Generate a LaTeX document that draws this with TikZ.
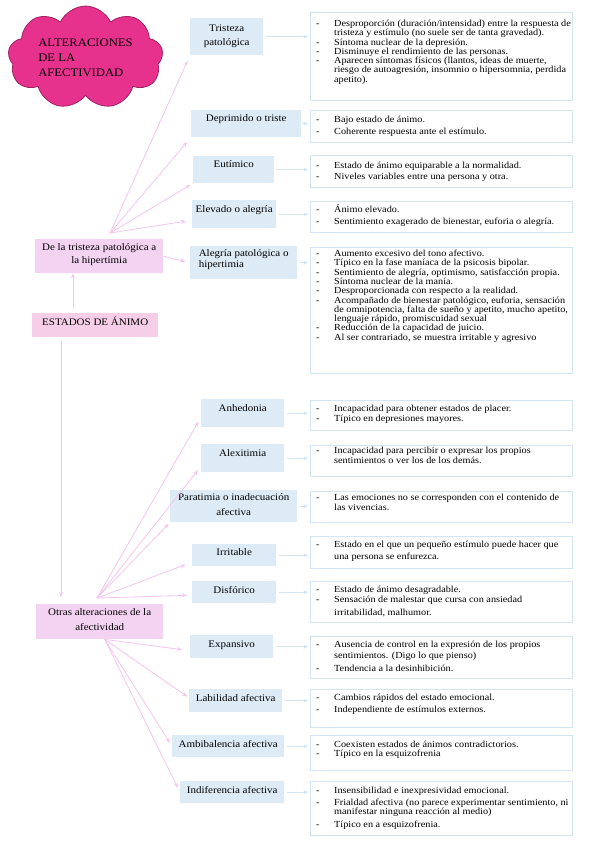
\documentclass[tikz,border=0pt]{standalone}
\usepackage{fontspec}
\setmainfont{Liberation Serif}[FakeStretch=1.1]
\usetikzlibrary{shapes.symbols,arrows.meta,calc}
\definecolor{bluef}{RGB}{221,235,247}
\definecolor{blueline}{RGB}{210,228,245}
\definecolor{pinkf}{RGB}{243,211,241}
\definecolor{pinkf2}{RGB}{246,206,232}
\definecolor{pinkline}{RGB}{243,198,238}
\definecolor{magf}{RGB}{230,50,140}
\definecolor{magd}{RGB}{160,32,96}
\newcommand\Li[1]{\hbox{\makebox[18pt][l]{-}#1}}
\newcommand\Lc[1]{\hbox{\hspace*{18pt}#1}}
\newcommand\dlist[2][9.3pt]{\vtop{\baselineskip=#1\lineskiplimit=-10pt\lineskip=0pt #2}}
\newcommand\ctwo[3]{\vtop{\baselineskip=#1\lineskiplimit=-10pt\lineskip=0pt\halign{\hfil##\hfil\cr#2\cr#3\cr}}}
\newcommand\ltwo[3]{\vtop{\baselineskip=#1\lineskiplimit=-10pt\lineskip=0pt\halign{##\hfil\cr#2\cr#3\cr}}}
\tikzset{
  lab/.style={fill=bluef, inner xsep=0pt, inner ysep=0pt, anchor=north west, font=\fontsize{10}{12}\selectfont},
  plab/.style={fill=pinkf, inner xsep=0pt, inner ysep=0pt, anchor=north west, font=\fontsize{10}{12}\selectfont},
  dbox/.style={draw=blueline, line width=0.8pt, fill=white, anchor=north west, inner sep=0pt, minimum width=262pt},
  dtext/.style={anchor=base west, inner sep=0pt, font=\fontsize{9.3}{9.3}\selectfont},
  pa/.style={draw=pinkline, line width=0.8pt, -{Stealth[length=5pt,width=4pt]}},
  ba/.style={draw=blueline, line width=1.2pt, -{Stealth[length=4.5pt,width=4pt]}, shorten <=3pt, shorten >=2pt},
}
\begin{document}
\begin{tikzpicture}[x=1pt,y=-1pt]
\fill[white] (0,0) rectangle (599,848);
\useasboundingbox (0,0) rectangle (599,848);

% title cloud
\node[cloud, cloud puffs=9, cloud puff arc=130, aspect=1.7, fill=magf, draw=magd, line width=0.8pt,
  minimum width=155pt, minimum height=91pt, inner sep=0pt, font=\fontsize{11.5}{15}\selectfont, align=left]
  (cl) at (85.5,57.5) {ALTERACIONES\\DE LA\\AFECTIVIDAD};

% pink nodes
\node[plab, minimum width=128pt, text height=11.5pt, text depth=22.5pt] (n1) at (35,239)
  {\ctwo{13pt}{De la tristeza patológica a}{la hipertímia}};
\node[plab, fill=pinkf2, minimum width=126pt, text height=12.5pt, text depth=11pt] (es) at (32,313)
  {ESTADOS DE ÁNIMO};
\node[plab, minimum width=127pt, text height=11.5pt, text depth=23.5pt] (ot) at (36,604)
  {\ctwo{15pt}{Otras alteraciones de la}{afectividad}};

% blue labels
\node[lab, minimum width=73pt, text height=13.5pt, text depth=23.5pt] (b1) at (190,18) {\ctwo{14pt}{Tristeza}{patológica}};
\node[lab, minimum width=110pt, text height=11.5pt, text depth=15.5pt] (b2) at (191,110) {Deprimido o triste};
\node[lab, minimum width=81pt, text height=11.5pt, text depth=15.5pt] (b3) at (193,156) {Eutímico};
\node[lab, minimum width=84pt, text height=12.5pt, text depth=15.5pt] (b4) at (192,200) {Elevado o alegría};
\node[lab, minimum width=107pt, text height=10.5pt, text depth=22.5pt] (b5) at (190,246) {\ltwo{11pt}{Alegría patológica o}{hipertimia}};
\node[lab, minimum width=83pt, text height=12.5pt, text depth=15.5pt] (b6) at (201,399) {Anhedonia};
\node[lab, minimum width=83pt, text height=12.5pt, text depth=15.5pt] (b7) at (201,444) {Alexitimia};
\node[lab, minimum width=127pt, text height=10.5pt, text depth=21.5pt] (b8) at (170,490) {\ctwo{15pt}{Paratimia o inadecuación}{afectiva}};
\node[lab, minimum width=84pt, text height=11.5pt, text depth=10.5pt] (b9) at (192,544) {Irritable};
\node[lab, minimum width=84pt, text height=12.5pt, text depth=9.5pt] (b10) at (192,581) {Disfórico};
\node[lab, minimum width=83pt, text height=12.5pt, text depth=10.5pt] (b11) at (190,635) {Expansivo};
\node[lab, minimum width=93pt, text height=12.5pt, text depth=10.5pt] (b12) at (189,689) {Labilidad afectiva};
\node[lab, minimum width=112pt, text height=12.5pt, text depth=9.5pt] (b13) at (172,735) {Ambibalencia afectiva};
\node[lab, minimum width=104pt, text height=12.5pt, text depth=9.5pt] (b14) at (180,781) {Indiferencia afectiva};

% description boxes
\node[dbox, minimum height=88pt] (d1) at (310,12) {};
\node[dbox, minimum height=32pt] (d2) at (310,110) {};
\node[dbox, minimum height=32pt] (d3) at (310,155) {};
\node[dbox, minimum height=31pt] (d4) at (310,201) {};
\node[dbox, minimum height=126pt] (d5) at (310,247) {};
\node[dbox, minimum height=30pt] (d6) at (310,400) {};
\node[dbox, minimum height=31pt] (d7) at (310,445) {};
\node[dbox, minimum height=31pt] (d8) at (310,491) {};
\node[dbox, minimum height=32pt] (d9) at (310,536) {};
\node[dbox, minimum height=41pt] (d10) at (310,581) {};
\node[dbox, minimum height=42pt] (d11) at (310,636) {};
\node[dbox, minimum height=38pt] (d12) at (310,689) {};
\node[dbox, minimum height=35pt] (d13) at (310,735) {};
\node[dbox, minimum height=54pt] (d14) at (310,781) {};

% description texts
\node[dtext] (t1) at (316,26.5) {\dlist{%
  \Li{Desproporción (duración/intensidad) entre la respuesta de}
  \Lc{tristeza y estímulo (no suele ser de tanta gravedad).}
  \Li{Síntoma nuclear de la depresión.}
  \Li{Disminuye el rendimiento de las personas.}
  \Li{Aparecen síntomas físicos (llantos, ideas de muerte,}
  \Lc{riesgo de autoagresión, insomnio o hipersomnia, perdida}
  \Lc{apetito).}}};
\node[dtext] (t2) at (316,122.5) {\dlist{%
  \Li{Bajo estado de ánimo.}\vskip2.4pt
  \Li{Coherente respuesta ante el estímulo.}}};
\node[dtext] (t3) at (316,168.5) {\dlist{%
  \Li{Estado de ánimo equiparable a la normalidad.}\vskip1.7pt
  \Li{Niveles variables entre una persona y otra.}}};
\node[dtext] (t4) at (316,212.5) {\dlist{%
  \Li{Ánimo elevado.}\vskip2.7pt
  \Li{Sentimiento exagerado de bienestar, euforia o alegría.}}};
\node[dtext] (t5) at (316,256.5) {\dlist{%
  \Li{Aumento excesivo del tono afectivo.}
  \Li{Típico en la fase maníaca de la psicosis bipolar.}
  \Li{Sentimiento de alegría, optimismo, satisfacción propia.}
  \Li{Síntoma nuclear de la manía.}
  \Li{Desproporcionada con respecto a la realidad.}
  \Li{Acompañado de bienestar patológico, euforia, sensación}
  \Lc{de omnipotencia, falta de sueño y apetito, mucho apetito,}
  \Lc{lenguaje rápido, promiscuidad sexual}
  \Li{Reducción de la capacidad de juicio.}
  \Li{Al ser contrariado, se muestra irritable y agresivo}}};
\node[dtext] (t6) at (316,411.5) {\dlist{%
  \Li{Incapacidad para obtener estados de placer.}\vskip0.7pt
  \Li{Típico en depresiones mayores.}}};
\node[dtext] (t7) at (316,453.5) {\dlist{%
  \Li{Incapacidad para percibir o expresar los propios}\vskip0.7pt
  \Lc{sentimientos o ver los de los demás.}}};
\node[dtext] (t8) at (316,500) {\dlist{%
  \Li{Las emociones no se corresponden con el contenido de}\vskip1.3pt
  \Lc{las vivencias.}}};
\node[dtext] (t9) at (316,547.5) {\dlist{%
  \Li{Estado en el que un pequeño estímulo puede hacer que}\vskip2.4pt
  \Lc{una persona se enfurezca.}}};
\node[dtext] (t10) at (316,592.5) {\dlist{%
  \Li{Estado de ánimo desagradable.}\vskip0.7pt
  \Li{Sensación de malestar que cursa con ansiedad}\vskip4pt
  \Lc{irritabilidad, malhumor.}}};
\node[dtext] (t11) at (316,647.5) {\dlist{%
  \Li{Ausencia de control en la expresión de los propios}\vskip1.7pt
  \Lc{sentimientos. (Digo lo que pienso)}\vskip3.7pt
  \Li{Tendencia a la desinhibición.}}};
\node[dtext] (t12) at (316,700.5) {\dlist{%
  \Li{Cambios rápidos del estado emocional.}\vskip2.7pt
  \Li{Independiente de estímulos externos.}}};
\node[dtext] (t13) at (316,747.5) {\dlist{%
  \Li{Coexisten estados de ánimos contradictorios.}
  \Li{Típico en la esquizofrenia}}};
\node[dtext] (t14) at (316,793) {\dlist{%
  \Li{Insensibilidad e inexpresividad emocional.}\vskip2.7pt
  \Li{Frialdad afectiva (no parece experimentar sentimiento, ni}
  \Lc{manifestar ninguna reacción al medio)}\vskip4pt
  \Li{Típico en a esquizofrenia.}}};

% fan origins
\coordinate (f1) at (110,233);
\coordinate (f2) at (97,598);
\coordinate (f3) at ([xshift=5pt]ot.south);

% pink connectors
\draw[pa] ([xshift=41pt,yshift=5pt]es.north west) -- ([xshift=38pt]n1.south west);
\draw[pa] ([xshift=29pt,yshift=-4pt]es.south west) -- ([xshift=25pt,yshift=7pt]ot.north west);
\draw[pa, shorten >=6pt] (f1) -- (b1.south west);
\draw[pa, shorten >=6pt] (f1) -- (b2.south west);
\draw[pa, shorten >=3pt] (f1) -- (b3.south west);
\draw[pa, shorten >=6pt] (f1) -- ([yshift=-6pt]b4.west);
\draw[pa, shorten >=5pt] (n1.east) -- (b5.west);
\draw[pa, shorten >=5pt] (f2) -- ([yshift=-4pt]b6.west);
\draw[pa, shorten >=5pt] (f2) -- ([yshift=-8pt]b7.west);
\draw[pa, shorten >=2pt] (f2) -- (b8.south west);
\draw[pa, shorten >=7pt] (f2) -- ([yshift=-7pt]b9.west);
\draw[pa, shorten >=5pt] (f2) -- ([yshift=-3pt]b10.west);
\draw[pa, shorten >=8pt] (f3) -- ([yshift=-4pt]b11.west);
\draw[pa, shorten >=2pt] (f3) -- ([yshift=3pt]b12.west);
\draw[pa, shorten >=4pt] (f3) -- (b13.west);
\draw[pa, shorten >=5pt] (f3) -- (b14.west);

% blue connectors
\draw[ba] (b1.east) -- (b1.east -| d1.west);
\draw[ba, shorten <=1pt] (b2.east) -- (b2.east -| d2.west);
\draw[ba] (b3.east) -- (b3.east -| d3.west);
\draw[ba] (b4.east) -- (b4.east -| d4.west);
\draw[ba] (b5.east) -- (b5.east -| d5.west);
\draw[ba] (b6.east) -- (b6.east -| d6.west);
\draw[ba] (b7.east) -- (b7.east -| d7.west);
\draw[ba] (b8.east) -- (b8.east -| d8.west);
\draw[ba] (b9.east) -- (b9.east -| d9.west);
\draw[ba] (b10.east) -- (b10.east -| d10.west);
\draw[ba] (b11.east) -- (b11.east -| d11.west);
\draw[ba] (b12.east) -- (b12.east -| d12.west);
\draw[ba] (b13.east) -- (b13.east -| d13.west);
\draw[ba] (b14.east) -- (b14.east -| d14.west);
\end{tikzpicture}
\end{document}
